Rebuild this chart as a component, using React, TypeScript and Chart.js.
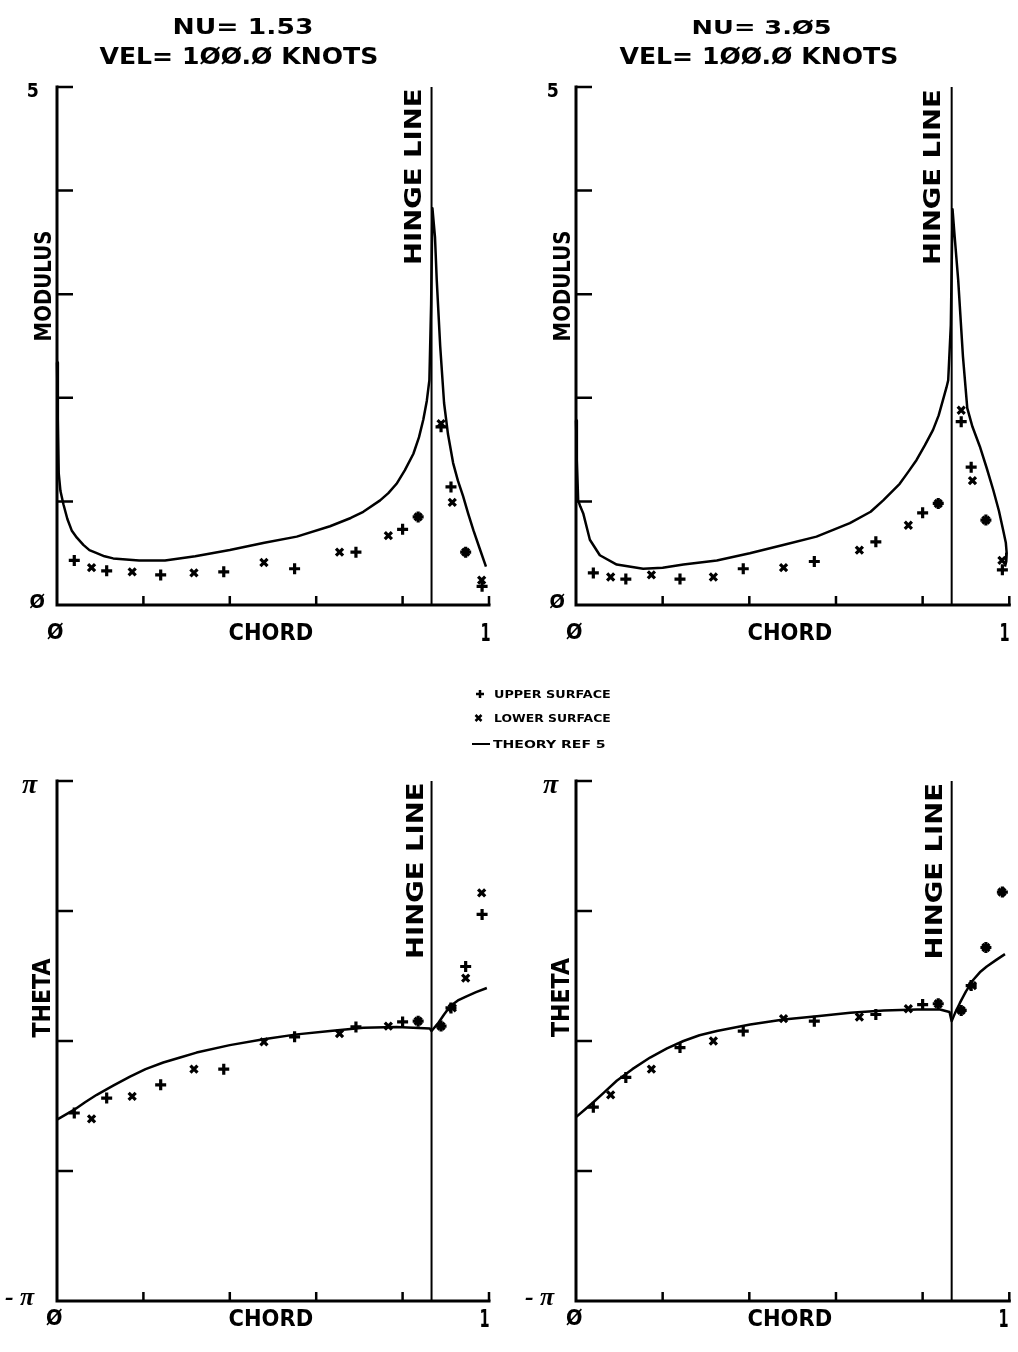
import React, { useEffect, useRef } from "react";
import { Chart, registerables } from "chart.js";

Chart.register(...registerables);

const W = 1018;
const H = 1352;
const HINGE = 0.867;

const chordTicks = [0.2, 0.4, 0.6, 0.8, 1.0];
const modulusTicks = [1, 2, 3, 4, 5];
const thetaTicks = [-Math.PI / 2, 0, Math.PI / 2, Math.PI];

// measurement stations
const upperChord = [0.04, 0.115, 0.24, 0.386, 0.55, 0.692, 0.8, 0.836, 0.889, 0.912, 0.946, 0.984];
const lowerChord = [0.08, 0.174, 0.317, 0.479, 0.654, 0.767, 0.836, 0.889, 0.915, 0.946, 0.983];

// modulus, NU = 1.53
const modUpper153 = [0.43, 0.33, 0.29, 0.32, 0.35, 0.51, 0.73, 0.85, 1.72, 1.14, 0.51, 0.18];
const modLower153 = [0.36, 0.32, 0.31, 0.41, 0.51, 0.67, 0.85, 1.75, 0.99, 0.51, 0.24];
// modulus, NU = 3.05
const modUpper305 = [0.31, 0.25, 0.25, 0.35, 0.42, 0.61, 0.89, 0.98, 1.77, 1.33, 0.82, 0.34];
const modLower305 = [0.27, 0.29, 0.27, 0.36, 0.53, 0.77, 0.98, 1.88, 1.2, 0.82, 0.43];
// theta, NU = 1.53
const thetaUpper153 = [-0.87, -0.69, -0.53, -0.34, 0.05, 0.17, 0.23, 0.24, 0.18, 0.4, 0.9, 1.53];
const thetaLower153 = [-0.94, -0.67, -0.34, -0.01, 0.09, 0.18, 0.24, 0.18, 0.4, 0.76, 1.79];
// theta, NU = 3.05
const thetaUpper305 = [-0.8, -0.44, -0.08, 0.12, 0.24, 0.32, 0.44, 0.45, 0.37, 0.67, 1.13, 1.8];
const thetaLower305 = [-0.65, -0.34, 0.0, 0.27, 0.29, 0.39, 0.45, 0.37, 0.67, 1.13, 1.8];

// theory (ref 5)
const theoryModChord153 = [0, 0.002, 0.004, 0.008, 0.015, 0.024, 0.034, 0.046, 0.061, 0.075, 0.092, 0.11, 0.13, 0.16, 0.19, 0.25, 0.32, 0.4, 0.48, 0.555, 0.632, 0.68, 0.709, 0.748, 0.767, 0.786, 0.805, 0.825, 0.838, 0.848, 0.856, 0.862, 0.866, 0.869, 0.875, 0.879, 0.887, 0.896, 0.905, 0.917, 0.928, 0.94, 0.952, 0.964, 0.978, 0.993];
const theoryMod153 = [2.34, 1.8, 1.27, 1.1, 0.97, 0.83, 0.72, 0.65, 0.58, 0.53, 0.5, 0.47, 0.45, 0.44, 0.43, 0.43, 0.47, 0.53, 0.6, 0.66, 0.76, 0.84, 0.9, 1.01, 1.08, 1.17, 1.3, 1.46, 1.62, 1.79, 1.97, 2.17, 2.9, 3.83, 3.55, 3.14, 2.5, 1.95, 1.65, 1.37, 1.2, 1.05, 0.88, 0.72, 0.55, 0.37];
const theoryModChord305 = [0, 0.002, 0.005, 0.01, 0.017, 0.032, 0.055, 0.094, 0.155, 0.2, 0.248, 0.325, 0.401, 0.478, 0.555, 0.632, 0.68, 0.709, 0.747, 0.766, 0.786, 0.805, 0.824, 0.837, 0.847, 0.855, 0.859, 0.865, 0.869, 0.874, 0.882, 0.893, 0.903, 0.915, 0.932, 0.948, 0.963, 0.976, 0.986, 0.992, 0.994, 0.993, 0.99];
const theoryMod305 = [1.78, 1.4, 1.01, 0.95, 0.88, 0.63, 0.48, 0.39, 0.35, 0.36, 0.39, 0.43, 0.5, 0.58, 0.66, 0.79, 0.9, 1.01, 1.17, 1.28, 1.4, 1.54, 1.69, 1.83, 1.98, 2.1, 2.17, 2.7, 3.82, 3.55, 3.14, 2.4, 1.9, 1.72, 1.53, 1.32, 1.11, 0.91, 0.72, 0.6, 0.5, 0.42, 0.37];
const theoryThetaChord153 = [0, 0.02, 0.04, 0.065, 0.092, 0.13, 0.169, 0.205, 0.246, 0.285, 0.323, 0.4, 0.478, 0.555, 0.632, 0.709, 0.786, 0.863, 0.867, 0.883, 0.896, 0.91, 0.928, 0.948, 0.97, 0.995];
const theoryTheta153 = [-0.95, -0.89, -0.83, -0.74, -0.65, -0.54, -0.43, -0.34, -0.26, -0.2, -0.14, -0.05, 0.02, 0.08, 0.12, 0.16, 0.17, 0.15, 0.12, 0.22, 0.32, 0.42, 0.49, 0.54, 0.59, 0.64];
const theoryThetaChord305 = [0, 0.02, 0.04, 0.065, 0.094, 0.13, 0.171, 0.21, 0.248, 0.285, 0.325, 0.402, 0.479, 0.556, 0.633, 0.71, 0.787, 0.84, 0.862, 0.867, 0.875, 0.886, 0.9, 0.917, 0.932, 0.948, 0.97, 0.99];
const theoryTheta305 = [-0.92, -0.83, -0.74, -0.62, -0.48, -0.34, -0.2, -0.09, 0.0, 0.07, 0.12, 0.2, 0.26, 0.3, 0.34, 0.37, 0.38, 0.38, 0.35, 0.24, 0.34, 0.46, 0.6, 0.74, 0.83, 0.9, 0.98, 1.05];

const SANS = '"DejaVu Sans", "Liberation Sans", sans-serif';
const SERIF = '"Liberation Serif", "DejaVu Serif", serif';
const ROT = -Math.PI / 2;

type TextItem = { t: string; x: number; y: number; w: number; h: number; rot?: number; serif?: boolean };

type Panel = {
  pad: { left: number; top: number; right: number; bottom: number };
  yMin: number;
  yMax: number;
  yTicks: number[];
  theoryX: number[];
  theoryY: number[];
  upperY: number[];
  lowerY: number[];
  texts: TextItem[];
  legend?: boolean;
};

const panels: Panel[] = [
  {
    pad: { left: 57, top: 87, right: W - 489, bottom: H - 605 },
    yMin: 0, yMax: 5, yTicks: modulusTicks,
    theoryX: theoryModChord153, theoryY: theoryMod153, upperY: modUpper153, lowerY: modLower153,
    texts: [
      { t: "NU= 1.53", x: 243, y: 26.5, w: 137, h: 17 },
      { t: "VEL= 1ØØ.Ø KNOTS", x: 238, y: 55.5, w: 277, h: 19 },
      { t: "5", x: 33, y: 89.5, w: 10, h: 15 },
      { t: "Ø", x: 37, y: 601, w: 15, h: 16 },
      { t: "Ø", x: 55, y: 631.5, w: 16, h: 18 },
      { t: "CHORD", x: 271, y: 631.5, w: 83, h: 18 },
      { t: "1", x: 486, y: 631.5, w: 8, h: 18 },
      { t: "MODULUS", x: 42, y: 286, w: 108, h: 19, rot: ROT },
      { t: "HINGE LINE", x: 412.5, y: 176.5, w: 173, h: 19, rot: ROT },
    ],
    legend: true,
  },
  {
    pad: { left: 576, top: 87, right: W - 1010, bottom: H - 605 },
    yMin: 0, yMax: 5, yTicks: modulusTicks,
    theoryX: theoryModChord305, theoryY: theoryMod305, upperY: modUpper305, lowerY: modLower305,
    texts: [
      { t: "NU= 3.Ø5", x: 762, y: 26.5, w: 137, h: 17 },
      { t: "VEL= 1ØØ.Ø KNOTS", x: 758, y: 55.5, w: 277, h: 19 },
      { t: "5", x: 553, y: 89.5, w: 10, h: 15 },
      { t: "Ø", x: 557, y: 601, w: 15, h: 16 },
      { t: "Ø", x: 574, y: 631.5, w: 16, h: 18 },
      { t: "CHORD", x: 790, y: 631.5, w: 83, h: 18 },
      { t: "1", x: 1005, y: 631.5, w: 8, h: 18 },
      { t: "MODULUS", x: 561, y: 286, w: 108, h: 19, rot: ROT },
      { t: "HINGE LINE", x: 931, y: 177, w: 172, h: 19, rot: ROT },
    ],
  },
  {
    pad: { left: 57, top: 781, right: W - 489, bottom: H - 1301 },
    yMin: -Math.PI, yMax: Math.PI, yTicks: thetaTicks,
    theoryX: theoryThetaChord153, theoryY: theoryTheta153, upperY: thetaUpper153, lowerY: thetaLower153,
    texts: [
      { t: "π", x: 30, y: 786.5, w: 16, h: 13, serif: true },
      { t: "- π", x: 20, y: 1299, w: 30, h: 12, serif: true },
      { t: "Ø", x: 54, y: 1317.5, w: 16, h: 18 },
      { t: "CHORD", x: 271, y: 1317.5, w: 83, h: 18 },
      { t: "1", x: 485, y: 1317.5, w: 8, h: 18 },
      { t: "THETA", x: 41, y: 998, w: 79, h: 18, rot: ROT },
      { t: "HINGE LINE", x: 414, y: 870.5, w: 173, h: 19, rot: ROT },
    ],
  },
  {
    pad: { left: 576, top: 781, right: W - 1010, bottom: H - 1301 },
    yMin: -Math.PI, yMax: Math.PI, yTicks: thetaTicks,
    theoryX: theoryThetaChord305, theoryY: theoryTheta305, upperY: thetaUpper305, lowerY: thetaLower305,
    texts: [
      { t: "π", x: 551, y: 786.5, w: 16, h: 13, serif: true },
      { t: "- π", x: 540, y: 1299, w: 30, h: 12, serif: true },
      { t: "Ø", x: 574, y: 1317.5, w: 16, h: 18 },
      { t: "CHORD", x: 790, y: 1317.5, w: 83, h: 18 },
      { t: "1", x: 1004, y: 1317.5, w: 8, h: 18 },
      { t: "THETA", x: 560, y: 997.5, w: 79, h: 18, rot: ROT },
      { t: "HINGE LINE", x: 933, y: 871, w: 173, h: 19, rot: ROT },
    ],
  },
];

const legendItems = [
  { mark: "cross", label: "UPPER SURFACE", y: 694 },
  { mark: "crossRot", label: "LOWER SURFACE", y: 718 },
  { mark: "line", label: "THEORY REF 5", y: 744 },
];

function drawText(ctx: CanvasRenderingContext2D, it: TextItem) {
  ctx.save();
  ctx.font = it.serif ? `italic bold 40px ${SERIF}` : `bold 40px ${SANS}`;
  ctx.textAlign = "left";
  ctx.textBaseline = "alphabetic";
  const m = ctx.measureText(it.t);
  const l = m.actualBoundingBoxLeft;
  const r = m.actualBoundingBoxRight;
  const a = m.actualBoundingBoxAscent;
  const d = m.actualBoundingBoxDescent;
  const inkW = Math.max(1, l + r);
  const inkH = Math.max(1, a + d);
  ctx.translate(it.x, it.y);
  if (it.rot) ctx.rotate(it.rot);
  ctx.scale(it.w / inkW, it.h / inkH);
  ctx.fillStyle = "#000";
  ctx.fillText(it.t, -(r - l) / 2, (a - d) / 2);
  ctx.restore();
}

function makePlugin(p: Panel) {
  return {
    id: "plotterFrame",
    beforeDatasetsDraw(chart: any) {
      const { ctx, chartArea: a, scales } = chart;
      const xs = scales.x;
      const ys = scales.y;
      ctx.save();
      ctx.strokeStyle = "#000";
      ctx.lineWidth = 3;
      ctx.lineCap = "square";
      ctx.beginPath();
      ctx.moveTo(a.left, a.top);
      ctx.lineTo(a.left, a.bottom);
      ctx.lineTo(a.right, a.bottom);
      ctx.stroke();
      ctx.lineCap = "butt";
      ctx.lineWidth = 2.5;
      ctx.beginPath();
      p.yTicks.forEach((v) => {
        const py = ys.getPixelForValue(v);
        ctx.moveTo(a.left, py);
        ctx.lineTo(a.left + 16, py);
      });
      chordTicks.forEach((v) => {
        const px = xs.getPixelForValue(v);
        ctx.moveTo(px, a.bottom);
        ctx.lineTo(px, a.bottom - 9);
      });
      ctx.stroke();
      // hinge line
      ctx.lineWidth = 2;
      ctx.beginPath();
      const hx = xs.getPixelForValue(HINGE);
      ctx.moveTo(hx, a.bottom);
      ctx.lineTo(hx, ys.getPixelForValue(p.yMax));
      ctx.stroke();
      ctx.restore();
    },
    afterDraw(chart: any) {
      const ctx: CanvasRenderingContext2D = chart.ctx;
      p.texts.forEach((t) => drawText(ctx, t));
      if (p.legend) {
        ctx.save();
        ctx.strokeStyle = "#000";
        ctx.lineWidth = 2.5;
        legendItems.forEach((it) => {
          ctx.beginPath();
          if (it.mark === "cross") {
            ctx.moveTo(476, it.y);
            ctx.lineTo(484, it.y);
            ctx.moveTo(480, it.y - 4);
            ctx.lineTo(480, it.y + 4);
          } else if (it.mark === "crossRot") {
            ctx.moveTo(475.5, it.y - 3);
            ctx.lineTo(481.5, it.y + 3);
            ctx.moveTo(481.5, it.y - 3);
            ctx.lineTo(475.5, it.y + 3);
          } else {
            ctx.lineWidth = 2;
            ctx.moveTo(472, it.y);
            ctx.lineTo(490, it.y);
          }
          ctx.stroke();
          const w = it.mark === "line" ? 112 : 115;
          const x0 = it.mark === "line" ? 493 : 495;
          drawText(ctx, { t: it.label, x: x0 + w / 2, y: it.y, w, h: 9 });
        });
        ctx.restore();
      }
    },
  };
}

function buildConfig(p: Panel): any {
  return {
    type: "scatter",
    data: {
      datasets: [
        {
          label: "THEORY REF 5",
          data: p.theoryX.map((x, i) => ({ x, y: p.theoryY[i] })),
          showLine: true,
          borderColor: "#000",
          backgroundColor: "#000",
          borderWidth: 2.5,
          borderJoinStyle: "round",
          pointRadius: 0,
          tension: 0,
          clip: 6,
        },
        {
          label: "UPPER SURFACE",
          data: upperChord.map((x, i) => ({ x, y: p.upperY[i] })),
          showLine: false,
          pointStyle: "cross",
          pointRadius: 5.5,
          borderWidth: 3.2,
          borderColor: "#000",
          backgroundColor: "#000",
          clip: 10,
        },
        {
          label: "LOWER SURFACE",
          data: lowerChord.map((x, i) => ({ x, y: p.lowerY[i] })),
          showLine: false,
          pointStyle: "crossRot",
          pointRadius: 5,
          borderWidth: 3.2,
          borderColor: "#000",
          backgroundColor: "#000",
          clip: 10,
        },
      ],
    },
    options: {
      animation: false,
      responsive: false,
      devicePixelRatio: 1,
      events: [],
      layout: { padding: p.pad },
      scales: {
        x: { type: "linear", min: 0, max: 1, display: false },
        y: { type: "linear", min: p.yMin, max: p.yMax, display: false },
      },
      plugins: { legend: { display: false }, tooltip: { enabled: false }, title: { display: false } },
    },
    plugins: [makePlugin(p)],
  };
}

export default function App() {
  const canvases = useRef<(HTMLCanvasElement | null)[]>([]);

  useEffect(() => {
    document.body.style.margin = "0";
    document.body.style.background = "#fff";
    const charts = panels.map((p, i) => new Chart(canvases.current[i] as HTMLCanvasElement, buildConfig(p)));
    return () => charts.forEach((c) => c.destroy());
  }, []);

  return (
    <div style={{ position: "relative", width: W, height: H, background: "#fff", overflow: "hidden" }}>
      {panels.map((_, i) => (
        <canvas
          key={i}
          ref={(el) => {
            canvases.current[i] = el;
          }}
          width={W}
          height={H}
          style={{ position: "absolute", left: 0, top: 0, width: W, height: H }}
        />
      ))}
    </div>
  );
}
